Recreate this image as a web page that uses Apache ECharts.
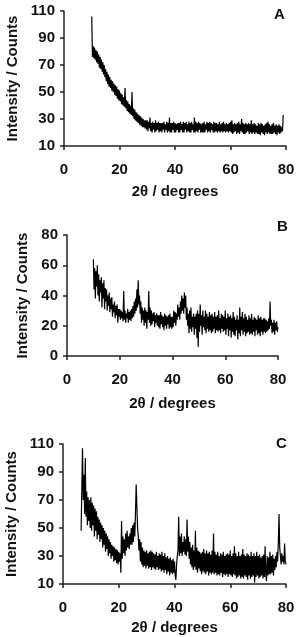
<!DOCTYPE html>
<html>
<head>
<meta charset="utf-8">
<title>XRD</title>
<script src="https://cdn.jsdelivr.net/npm/echarts@6/dist/echarts.min.js"></script>
<style>
  html, body { margin: 0; padding: 0; background: #fff; }
  #main { width: 301px; height: 637px; }
</style>
</head>
<body>
<div id="main"></div>
<script>
// step of 0.25 degree between the read points
var step = 0.25
// panel A : 10 -> 79 degrees
var startA = 10
var countsA = [
  106, 76, 84, 75, 83, 74, 81, 72, 80, 71, 78, 68, 76, 67, 74, 65, 72, 63, 70, 61,
  67, 58, 65, 56, 63, 54, 61, 53, 59, 51, 58, 50, 56, 48, 55, 47, 54, 45, 52, 44,
  51, 43, 49, 41, 48, 40, 46, 39, 53, 38, 44, 36, 43, 35, 41, 34, 40, 33, 50, 32,
  38, 30, 37, 29, 35, 28, 34, 27, 33, 26, 32, 25, 31, 24, 30, 24, 29, 23, 29, 22,
  29, 21, 28, 23, 31, 21, 27, 20, 28, 22, 27, 20, 29, 21, 27, 22, 28, 20, 27, 21,
  27, 20, 27, 22, 28, 20, 26, 22, 28, 20, 27, 21, 31, 20, 27, 20, 27, 22, 28, 20,
  27, 20, 26, 22, 27, 20, 27, 20, 28, 22, 26, 20, 28, 20, 27, 22, 28, 20, 26, 21,
  28, 20, 27, 20, 28, 22, 26, 20, 31, 20, 28, 21, 27, 20, 28, 22, 27, 20, 26, 20,
  27, 20, 28, 20, 26, 22, 28, 20, 27, 21, 28, 20, 27, 22, 26, 20, 28, 20, 27, 21,
  27, 20, 26, 21, 28, 20, 26, 21, 27, 20, 28, 21, 26, 20, 27, 21, 26, 20, 27, 21,
  28, 20, 29, 19, 26, 20, 27, 21, 26, 19, 27, 20, 28, 19, 26, 21, 30, 20, 27, 19,
  26, 19, 27, 20, 26, 21, 27, 19, 26, 20, 29, 19, 26, 20, 27, 19, 26, 20, 25, 19,
  27, 19, 26, 18, 27, 20, 26, 19, 25, 18, 26, 20, 27, 19, 28, 20, 26, 19, 25, 19,
  26, 19, 27, 20, 25, 19, 26, 18, 25, 20, 26, 19, 25, 20, 24, 21, 33
]
// panel B : 10 -> 80 degrees
var startB = 10
var countsB = [
  64, 44, 58, 38, 56, 46, 60, 40, 54, 36, 50, 42, 52, 32, 48, 38, 50, 31, 45, 36,
  44, 30, 40, 33, 42, 29, 38, 31, 39, 26, 34, 29, 36, 25, 33, 27, 34, 22, 31, 26,
  31, 24, 30, 25, 29, 23, 43, 24, 30, 22, 28, 25, 31, 22, 29, 24, 30, 23, 31, 25,
  33, 26, 36, 28, 38, 30, 44, 32, 50, 34, 40, 28, 36, 22, 32, 24, 30, 20, 32, 22,
  30, 18, 29, 24, 43, 22, 32, 20, 30, 21, 28, 23, 29, 19, 27, 22, 28, 20, 27, 19,
  27, 18, 29, 21, 27, 19, 26, 17, 28, 20, 27, 18, 26, 21, 27, 18, 28, 19, 26, 18,
  26, 19, 30, 22, 29, 20, 28, 24, 34, 26, 32, 24, 36, 28, 40, 30, 38, 28, 42, 32,
  40, 24, 32, 20, 28, 15, 30, 18, 32, 16, 26, 19, 28, 14, 26, 18, 28, 12, 30, 6,
  28, 16, 34, 20, 27, 14, 30, 19, 26, 17, 30, 15, 28, 18, 26, 16, 29, 17, 27, 15,
  28, 16, 26, 18, 29, 15, 26, 17, 27, 16, 30, 17, 25, 15, 28, 18, 27, 16, 26, 17,
  30, 14, 25, 18, 28, 13, 26, 17, 27, 12, 25, 16, 29, 14, 26, 13, 24, 17, 27, 11,
  24, 15, 32, 13, 26, 17, 29, 14, 25, 16, 28, 13, 26, 15, 24, 16, 27, 14, 25, 15,
  28, 14, 24, 16, 26, 13, 25, 17, 24, 14, 27, 15, 25, 13, 26, 16, 24, 14, 25, 16,
  25, 15, 24, 16, 23, 17, 25, 18, 36, 20, 24, 15, 22, 16, 24, 14, 22, 17, 23, 16,
  19
]
// panel C : 6.5 -> 80 degrees
var startC = 6.5
var countsC = [
  48, 78, 107, 70, 88, 60, 100, 58, 76, 52, 72, 55,
  70, 50, 72, 48, 68, 52, 66, 44, 64, 48, 62, 42, 58, 45, 56, 40, 54, 42, 52, 36,
  50, 38, 48, 33, 46, 35, 44, 30, 42, 32, 40, 28, 38, 30, 37, 26, 36, 27, 35, 25,
  34, 24, 33, 26, 32, 18, 55, 28, 44, 32, 42, 30, 46, 34, 48, 36, 44, 35, 46, 38,
  50, 38, 52, 40, 54, 44, 60, 81, 66, 50, 44, 34, 42, 26, 40, 24, 36, 22, 34, 23,
  33, 21, 34, 23, 32, 21, 33, 22, 34, 20, 33, 22, 32, 21, 31, 20, 33, 22, 30, 20,
  32, 21, 31, 19, 33, 20, 30, 18, 32, 20, 29, 17, 30, 19, 28, 16, 29, 18, 27, 17,
  28, 18, 26, 16, 13, 24, 30, 34, 58, 30, 44, 32, 46, 30, 40, 33, 44, 31, 42, 30,
  56, 33, 44, 28, 40, 24, 36, 22, 38, 20, 34, 22, 48, 20, 36, 18, 34, 21, 33, 19,
  32, 17, 33, 19, 35, 18, 32, 17, 34, 19, 32, 16, 33, 18, 31, 17, 34, 18, 46, 17,
  33, 18, 31, 16, 33, 17, 30, 16, 32, 18, 31, 15, 33, 17, 30, 16, 31, 17, 32, 15,
  31, 17, 34, 16, 30, 15, 32, 17, 37, 16, 32, 14, 30, 15, 33, 16, 30, 14, 31, 15,
  35, 14, 31, 16, 30, 15, 32, 13, 31, 16, 30, 14, 33, 15, 30, 16, 32, 11, 30, 15,
  33, 16, 30, 14, 31, 15, 29, 16, 30, 14, 31, 15, 37, 17, 12, 30, 16, 29, 17, 33,
  17, 30, 18, 31, 16, 28, 20, 30, 22, 33, 26, 40, 60, 36, 30, 24, 32, 26, 30, 24,
  39, 26, 24
]
// tick labels
var xTicks = [0, 20, 40, 60, 80]
var yTicksA = [10, 30, 50, 70, 90, 110]
var yTicksB = [0, 20, 40, 60, 80]
var yTicksC = [10, 30, 50, 70, 90, 110]
var panelNames = ['A', 'B', 'C']

function pairs(start, vals) {
  return vals.map(function (v, i) { return [start + i * step, v] })
}

var font = 'Liberation Sans, Arial, sans-serif'
var axisCol = '#222'

function xAxisFor(idx, gap) {
  return {
    gridIndex: idx, type: 'value', min: 0, max: 80,
    name: '2θ / degrees', nameLocation: 'middle', nameGap: gap,
    nameTextStyle: { color: '#111', fontFamily: font, fontWeight: 'bold', fontSize: 15 },
    axisLine: { lineStyle: { color: axisCol, width: 1.5 } },
    axisTick: { show: true, length: 4, customValues: xTicks, lineStyle: { color: axisCol, width: 1.5 } },
    axisLabel: { customValues: xTicks, margin: 16, color: '#111', fontFamily: font, fontWeight: 'bold', fontSize: 15 },
    splitLine: { show: false }
  }
}

function yAxisFor(idx, min, max, ticks, gap) {
  return {
    gridIndex: idx, type: 'value', min: min, max: max,
    name: 'Intensity / Counts', nameLocation: 'middle', nameGap: gap,
    nameTextStyle: { color: '#111', fontFamily: font, fontWeight: 'bold', fontSize: 15 },
    axisLine: { show: true, lineStyle: { color: axisCol, width: 1.5 } },
    axisTick: { show: true, length: 4, customValues: ticks, lineStyle: { color: axisCol, width: 1.5 } },
    axisLabel: { customValues: ticks, margin: 9, color: '#111', fontFamily: font, fontWeight: 'bold', fontSize: 15 },
    splitLine: { show: false }
  }
}

function lineFor(idx, start, vals) {
  return {
    type: 'line', xAxisIndex: idx, yAxisIndex: idx,
    data: pairs(start, vals),
    showSymbol: false, sampling: null, animation: false,
    lineStyle: { color: '#000', width: 1.2 }
  }
}

var myChart = echarts.init(document.getElementById('main'), null, { renderer: 'canvas' })
var option = {
  backgroundColor: '#fff',
  animation: false,
  title: [
    { text: panelNames[0], left: 274, top: 7 },
    { text: panelNames[1], left: 277, top: 219 },
    { text: panelNames[2], left: 276, top: 436 }
  ].map(function (t) {
    t.textStyle = { color: '#111', fontFamily: font, fontWeight: 'bold', fontSize: 15 }
    t.padding = 0
    return t
  }),
  // fixed plot boxes, no auto shrinking for the labels
  grid: [
    { left: 64, top: 11, width: 222, height: 135, outerBoundsMode: 'none' },
    { left: 67, top: 235, width: 211, height: 121, outerBoundsMode: 'none' },
    { left: 63, top: 444, width: 223, height: 140, outerBoundsMode: 'none' }
  ],
  xAxis: [xAxisFor(0, 38), xAxisFor(1, 40), xAxisFor(2, 36)],
  yAxis: [
    yAxisFor(0, 10, 110, yTicksA, 40),
    yAxisFor(1, 0, 80, yTicksB, 35),
    yAxisFor(2, 10, 110, yTicksC, 39)
  ],
  series: [
    lineFor(0, startA, countsA),
    lineFor(1, startB, countsB),
    lineFor(2, startC, countsC)
  ]
}
myChart.setOption(option)
</script>
</body>
</html>
